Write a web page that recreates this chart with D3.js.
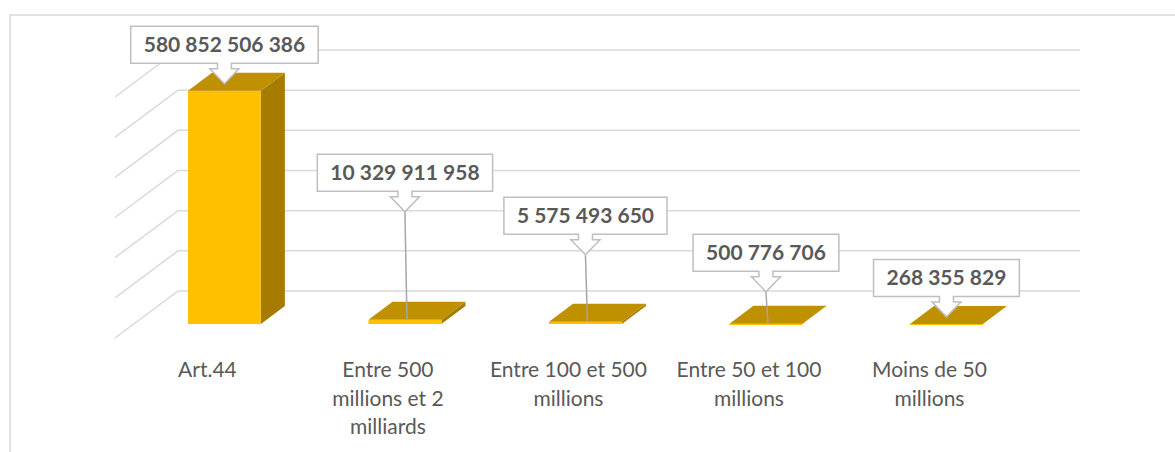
<!DOCTYPE html>
<html>
<head>
<meta charset="utf-8">
<script src="https://cdn.jsdelivr.net/npm/d3@7"></script>
<style>
  html, body { margin: 0; padding: 0; background: #fff; }
  svg { display: block; }
</style>
</head>
<body>
<div id="chart"></div>
<script>
// chart values
const categories = ["Art.44", "Entre 500\nmillions et 2\nmilliards", "Entre 100 et 500\nmillions", "Entre 50 et 100\nmillions", "Moins de 50\nmillions"];
const amounts = [580852506386, 10329911958, 5575493650, 500776706, 268355829];
const gridTicks = [0, 100e9, 200e9, 300e9, 400e9, 500e9, 600e9];

// how far each callout tip sits above its bar (px), labels were dragged in the original
const labelLift = [7, 108, 67, 32, 7];

class Bar3DChart {
    constructor(container, width, height) {
        this.container = container;
        this.width = width;
        this.height = height;
        this.depth = { dx: -63, dy: 47 };   // floor depth, back wall -> front
        this.barDepth = { dx: 24, dy: 18 };
        this.colors = { front: "#FFC000", top: "#BF9000", side: "#A67C00", grid: "#d9d9d9" };
        this.fmt = d3.formatLocale({ decimal: ",", thousands: " ", grouping: [3], currency: ["", ""] }).format(",d");
        this.setUpSVG();
        this.setUpScales();
        this.drawFrame();
        this.drawGrid();
        this.drawBars();
        this.drawCategoryLabels();
        this.drawCallouts();
    }

    setUpSVG() {
        this.svg = this.container.append("svg")
            .attr("width", this.width)
            .attr("height", this.height);
    }

    setUpScales() {
        this.y = d3.scaleLinear().domain([0, 600e9]).range([291, 50]);
        this.x = d3.scaleBand()
            .domain(categories)
            .range([80.4, 1090.5])
            .paddingInner(0.596)
            .paddingOuter(0.596);
        this.frontBase = this.y(0) + 33;
    }

    drawFrame() {
        this.svg.append("path")
            .attr("d", `M10,${this.height} V15 H${this.width}`)
            .attr("fill", "none")
            .attr("stroke", this.colors.grid)
            .attr("stroke-width", 1.5);
    }

    // back wall gridlines + left wall diagonals
    drawGrid() {
        const x0 = 178, x1 = 1080;
        const g = this.svg.append("g").attr("class", "grid")
            .attr("fill", "none")
            .attr("stroke", this.colors.grid)
            .attr("stroke-width", 1.5);
        g.selectAll("path")
            .data(gridTicks)
            .enter().append("path")
            .attr("d", d => `M${x0 + this.depth.dx},${this.y(d) + this.depth.dy} L${x0},${this.y(d)} H${x1}`);
    }

    drawBars() {
        const w = this.x.bandwidth();
        const { dx, dy } = this.barDepth;
        const bars = this.svg.append("g").attr("class", "bars")
            .selectAll("g")
            .data(categories)
            .enter().append("g");

        const geom = (d, i) => {
            const x = this.x(d);
            const h = this.y(0) - this.y(amounts[i]);
            const yb = this.frontBase;
            return { x, yt: yb - h, yb };
        };

        bars.append("path")
            .attr("fill", this.colors.side)
            .attr("d", (d, i) => {
                const b = geom(d, i);
                return `M${b.x + w},${b.yt} L${b.x + w + dx},${b.yt - dy} L${b.x + w + dx},${b.yb - dy} L${b.x + w},${b.yb}Z`;
            });
        bars.append("rect")
            .attr("fill", this.colors.front)
            .attr("x", (d, i) => geom(d, i).x)
            .attr("y", (d, i) => geom(d, i).yt)
            .attr("width", w)
            .attr("height", (d, i) => Math.max(geom(d, i).yb - geom(d, i).yt, 1.2));
        bars.append("path")
            .attr("fill", this.colors.top)
            .attr("d", (d, i) => {
                const b = geom(d, i);
                return `M${b.x},${b.yt} L${b.x + w},${b.yt} L${b.x + w + dx},${b.yt - dy} L${b.x + dx},${b.yt - dy}Z`;
            });
    }

    drawCategoryLabels() {
        const labels = this.svg.append("g").attr("class", "cat-labels")
            .selectAll("text")
            .data(categories)
            .enter().append("text")
            .attr("text-anchor", "middle")
            .attr("font-family", "Lato, 'Open Sans', sans-serif")
            .attr("font-size", 21)
            .attr("fill", "#595959")
            .attr("transform", d => `translate(${this.x(d) + this.x.bandwidth() / 2 - 17},377)`);
        labels.selectAll("tspan")
            .data(d => d.split("\n"))
            .enter().append("tspan")
            .attr("x", 0)
            .attr("y", (d, j) => j * 28.5)
            .text(d => d);
    }

    // value boxes with a down arrow, leader line when lifted away from the bar
    drawCallouts() {
        const boxH = 37, stemW = 7, stemH = 5.5, headW = 14.5, headH = 15;
        const g = this.svg.append("g").attr("class", "callouts");
        categories.forEach((c, i) => {
            const cx = this.x(c) + this.x.bandwidth() / 2;
            const barTop = this.frontBase - (this.y(0) - this.y(amounts[i]));
            const tip = barTop - labelLift[i];
            const bottom = tip - headH - stemH;
            const top = bottom - boxH;

            if (labelLift[i] > 12) {
                g.append("line")
                    .attr("x1", cx).attr("y1", tip)
                    .attr("x2", cx + 2).attr("y2", barTop)
                    .attr("stroke", "#a6a6a6")
                    .attr("stroke-width", 1.5);
            }

            const box = g.append("g");
            const path = box.append("path")
                .attr("fill", "#fff")
                .attr("stroke", "#bfbfbf")
                .attr("stroke-width", 1.5);
            const txt = box.append("text")
                .attr("x", cx)
                .attr("y", top + boxH / 2 + 7.5)
                .attr("text-anchor", "middle")
                .attr("font-family", "Lato, 'Open Sans', sans-serif")
                .attr("font-weight", "bold")
                .attr("font-size", 21)
                .attr("fill", "#595959")
                .text(this.fmt(amounts[i]));
            const tw = txt.node().getComputedTextLength();
            const half = tw / 2 + 13;
            path.attr("d", `M${cx - half},${top} H${cx + half} V${bottom} H${cx + stemW} V${bottom + stemH} H${cx + headW} L${cx},${tip} L${cx - headW},${bottom + stemH} H${cx - stemW} V${bottom} H${cx - half}Z`);
        });
    }
}

new Bar3DChart(d3.select("#chart"), 1175, 452);
</script>
</body>
</html>
